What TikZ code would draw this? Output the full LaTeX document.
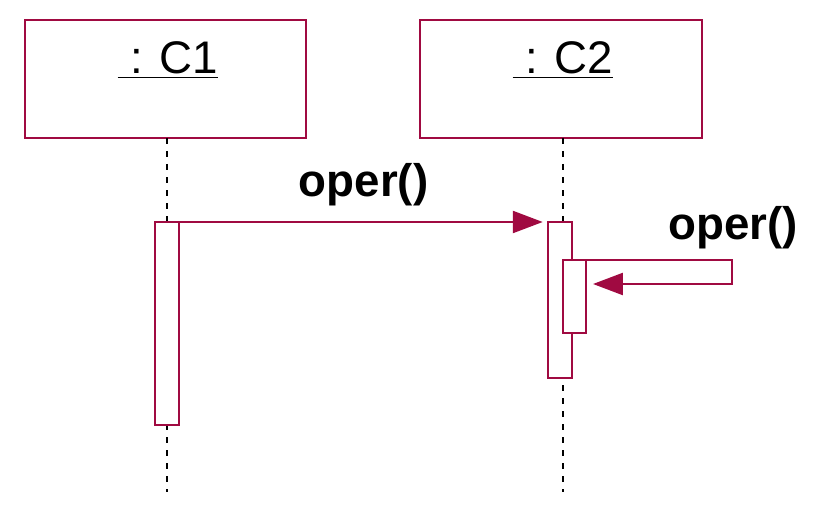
\documentclass[tikz,border=0pt]{standalone}
\usepackage{fontspec}
\setmainfont{Liberation Sans}
\usetikzlibrary{arrows.meta}

\definecolor{umlred}{RGB}{160,10,65}
\tikzset{every picture/.style={line width=1.3pt}}
\tikzset{
  object/.style={draw=umlred, line width=1.6pt, fill=white,
                 minimum width=#1, minimum height=118*0.02cm,
                 inner sep=0pt, outer sep=0pt},
  object/.default={281*0.02cm},
  activation/.style={draw=umlred, fill=white, minimum width=24*0.02cm,
              minimum height=#1, inner sep=0pt, outer sep=0pt},
  lifeline/.style={line width=1.4pt, dash pattern=on 3.6pt off 3.8pt},
  msg/.style={draw=umlred, -{Triangle[length=17pt,width=12.5pt]}},
  objname/.style={font=\fontsize{26}{30}\selectfont},
  oplabel/.style={font=\fontsize{26}{30}\selectfont\bfseries},
}

\begin{document}
\begin{tikzpicture}[x=0.02cm, y=-0.02cm]
  \useasboundingbox (0,0) rectangle (830,516);
  % objects
  \node[object] (c1) at (165.5,79) {};
  \node[object=282*0.02cm] (c2) at (561,79) {};
  \node[objname] (c1name) at (168,60) {\underline{~: C1}};
  \node[objname] (c2name) at (563,60) {\underline{~: C2}};
  % lifelines
  \coordinate (end1) at (167,492);
  \coordinate (end2) at (563,492);
  \draw[lifeline] (c1.south -| end1) -- (end1);
  \draw[lifeline] (c2.south -| end2) -- (end2);
  % activations
  \node[activation=203*0.02cm] (act1) at (167,323.5) {};
  \node[activation=156*0.02cm] (act2) at (560,300) {};
  \node[activation=73*0.02cm, minimum width=23*0.02cm] (act3) at (574.5,296.5) {};
  % messages
  \draw[msg, shorten >=3pt] (act1.north east) -- (act2.north west)
    node[oplabel, midway, above=5pt] (op1) {oper()};
  \coordinate (selfturn) at (732,284);
  \coordinate (selfend) at (593,284);
  \draw[msg] (act3.north east) -| (selfturn) -- (selfend);
  \node[oplabel] (op2) at (733,228) {oper()};
\end{tikzpicture}
\end{document}
